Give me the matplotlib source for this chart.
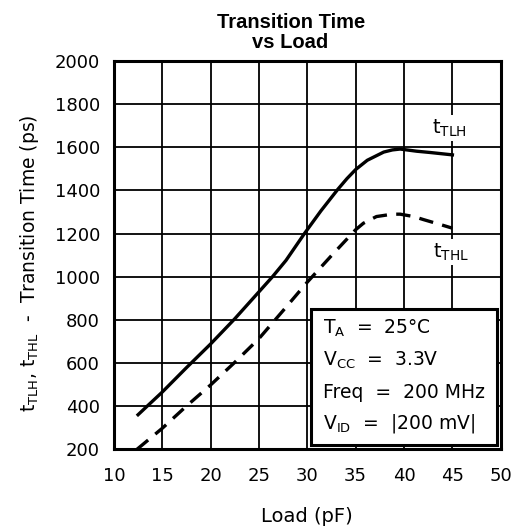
import matplotlib
matplotlib.use("Agg")
import matplotlib.pyplot as plt
from matplotlib.patches import Rectangle

## Data
load_tlh = [12.5, 13.45, 15, 17.5, 20, 22.5, 25, 26.4, 27.8, 29.7, 31.4, 33.15,
            34.1, 35, 36.2, 37.9, 38.8, 39.6, 41.3, 42.7, 45]
t_tlh = [360, 400, 465, 578, 688, 805, 930, 1000, 1076, 1200, 1305, 1405,
         1455, 1497, 1540, 1578, 1588, 1592, 1582, 1576, 1565]

load_thl = [12.4, 15, 17.5, 20, 22.5, 25, 27.5, 30, 32.5, 35, 35.8, 37.15,
            38.8, 39.6, 41, 42, 43.9, 45]
t_thl = [200, 297, 400, 498, 603, 713, 843, 975, 1098, 1218, 1248, 1279,
         1290, 1290, 1279, 1265, 1240, 1225]

x_ticks = [10, 15, 20, 25, 30, 35, 40, 45, 50]
y_ticks = [200, 400, 600, 800, 1000, 1200, 1400, 1600, 1800, 2000]

conditions = [r"$\mathregular{T_A}$  =  25°C",
              r"$\mathregular{V_{CC}}$  =  3.3V",
              "Freq  =  200 MHz",
              r"$\mathregular{V_{ID}}$  =  |200 mV|"]
cond_y = [735, 587, 438, 294]

plt.rcParams["font.family"] = ["DejaVu Sans"]
plt.rcParams["mathtext.fontset"] = "dejavusans"

fig = plt.figure(figsize=(5.20, 5.31), dpi=100)
ax = fig.add_axes([0.219, 0.154, 0.744, 0.731])

ax.plot(load_tlh, t_tlh, color="black", linewidth=2.4, solid_joinstyle="round", zorder=3)
ax.plot(load_thl, t_thl, color="black", linewidth=2.4, dashes=(4.3, 2.8), zorder=3)

ax.set_xlim(10, 50)
ax.set_ylim(200, 2000)
ax.set_xticks(x_ticks)
ax.set_yticks(y_ticks)
ax.tick_params(axis="x", length=0, labelsize=13, pad=13)
ax.tick_params(axis="y", length=0, labelsize=13, pad=10)
ax.grid(True, color="black", linewidth=1.3)
ax.set_axisbelow(True)
for s in ax.spines.values():
    s.set_linewidth(2.2)

ax.text(44.7, 1690, r"$\mathregular{t_{TLH}}$", fontsize=14, ha="center", va="center",
        bbox=dict(facecolor="white", edgecolor="none", pad=2), zorder=4)
ax.text(44.9, 1114, r"$\mathregular{t_{THL}}$", fontsize=14, ha="center", va="center",
        bbox=dict(facecolor="white", edgecolor="none", pad=2), zorder=4)

# conditions box
ax.add_patch(Rectangle((30.4, 220), 19.2, 631, facecolor="white", edgecolor="black",
                       linewidth=2.2, zorder=4))
for txt, yy in zip(conditions, cond_y):
    ax.text(31.6, yy, txt, fontsize=13.5, ha="left", va="baseline", zorder=5)

fig.text(291 / 520, 1 - 22 / 531, "Transition Time", fontsize=14.5, fontweight="bold",
         family="Liberation Sans", ha="center", va="center")
fig.text(290 / 520, 1 - 43 / 531, "vs Load", fontsize=14.5, fontweight="bold",
         family="Liberation Sans", ha="center", va="center")
fig.text(307 / 520, 1 - 517 / 531, "Load (pF)", fontsize=14, ha="center", va="center")
fig.text(30 / 520, 1 - 263 / 531,
         r"$\mathregular{t_{TLH}}$, $\mathregular{t_{THL}}$  -  Transition Time (ps)",
         fontsize=13.5, rotation=90, ha="center", va="center")

fig.savefig("out.png", dpi=100)
